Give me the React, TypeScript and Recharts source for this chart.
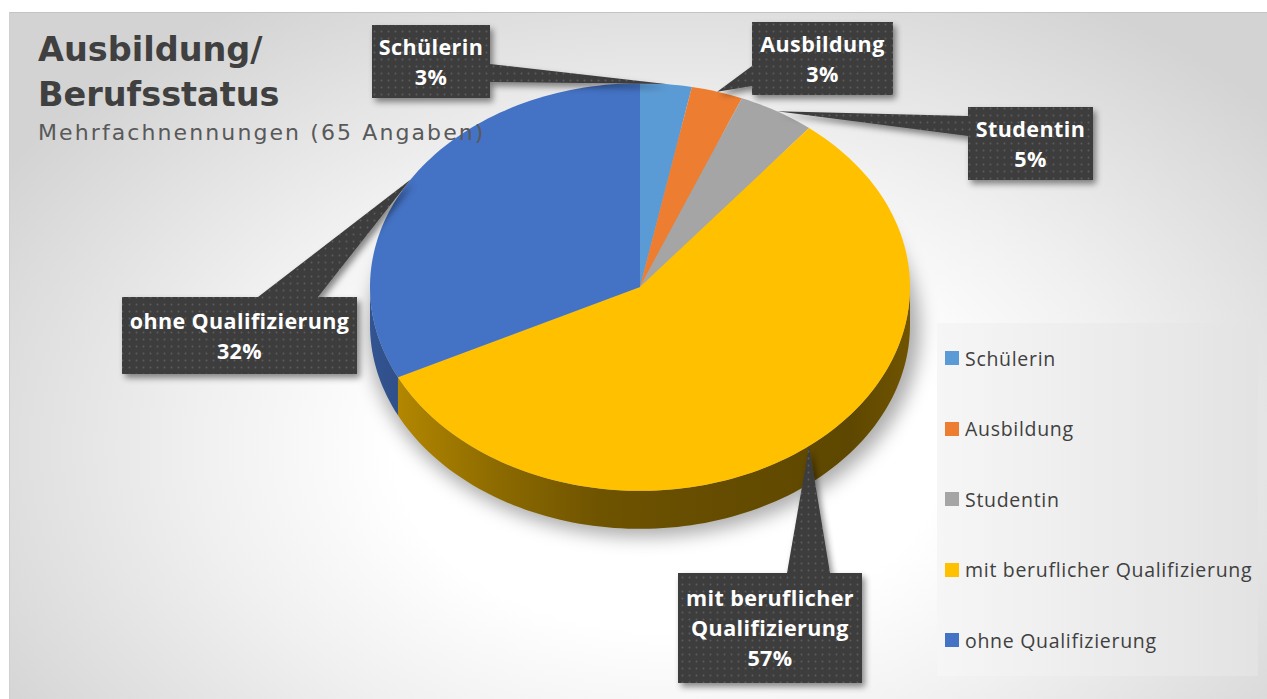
import { PieChart, Pie, Legend } from 'recharts'

const categories = ['Schülerin', 'Ausbildung', 'Studentin', 'mit beruflicher Qualifizierung', 'ohne Qualifizierung']
const counts = [2, 2, 3, 37, 21]
const colors = ['#5b9bd5', '#ed7d31', '#a5a5a5', '#ffc000', '#4472c4']

const data = categories.map((name, i) => ({ name, value: counts[i] }))

// callout boxes: box + the two points where the pointer leaves the box
const callouts = [
  { x: 372, y: 25, w: 118, h: 73, base: [[490, 64], [490, 82]], wrap: false },
  { x: 752, y: 22, w: 141, h: 73, base: [[752, 66], [752, 86]], wrap: false },
  { x: 968, y: 107, w: 125, h: 73, base: [[968, 116], [968, 136]], wrap: false },
  { x: 678, y: 573, w: 184, h: 110, base: [[787, 573], [830, 573]], wrap: true },
  { x: 122, y: 297, w: 235, h: 77, base: [[258, 297], [318, 297]], wrap: false },
]

const CX = 640
const CY = 287
const R = 270
const TILT = 0.755
const DEPTH = 38
const RAD = Math.PI / 180
const SIDE_SHADE = [0.74, 0.55, 0.43, 0.4, 0.37, 0.44]
const LABEL_FONT = '"Open Sans", Lato, sans-serif'

function pt(cx: number, cy: number, rx: number, ry: number, deg: number): [number, number] {
  return [cx + rx * Math.cos(deg * RAD), cy - ry * Math.sin(deg * RAD)]
}

function arc(cx: number, cy: number, rx: number, ry: number, from: number, to: number) {
  const steps = Math.max(2, Math.ceil(Math.abs(to - from) / 1.5))
  const out: string[] = []
  for (let i = 0; i <= steps; i++) {
    const [x, y] = pt(cx, cy, rx, ry, from + ((to - from) * i) / steps)
    out.push(`${x.toFixed(2)},${y.toFixed(2)}`)
  }
  return out
}

function shade(hex: string, f: number) {
  const n = parseInt(hex.slice(1), 16)
  const r = Math.round(((n >> 16) & 255) * f)
  const g = Math.round(((n >> 8) & 255) * f)
  const b = Math.round((n & 255) * f)
  return `rgb(${r},${g},${b})`
}

const renderFace = (props: any) => {
  const { cx, cy, outerRadius, startAngle, endAngle, index } = props
  const rx = outerRadius
  const ry = outerRadius * TILT
  const color = colors[index]
  const top = `M${cx},${cy} L${arc(cx, cy, rx, ry, startAngle, endAngle).join(' L')} Z`
  const hi = Math.min(startAngle, 0)
  const lo = Math.max(endAngle, -180)
  let side = ''
  if (hi > lo) {
    const upper = arc(cx, cy, rx, ry, hi, lo)
    const lower = arc(cx, cy + DEPTH, rx, ry, lo, hi)
    side = `M${upper.join(' L')} L${lower.join(' L')} Z`
  }
  const gid = `side-grad-${index}`
  return (
    <g key={`face-${index}`}>
      <defs>
        <linearGradient id={gid} gradientUnits="userSpaceOnUse" x1={cx - rx} y1={0} x2={cx + rx} y2={0}>
          {SIDE_SHADE.map((f, i) => (
            <stop key={i} offset={[0, 0.24, 0.43, 0.61, 0.89, 1][i]} stopColor={shade(color, f)} />
          ))}
        </linearGradient>
      </defs>
      {index === 0 && (
        <ellipse
          cx={cx + 4}
          cy={cy + DEPTH + 6}
          rx={rx + 6}
          ry={ry + 2}
          fill="rgba(0,0,0,0.32)"
          filter="url(#pieShadow)"
        />
      )}
      {side && <path d={side} fill={`url(#${gid})`} />}
      <path d={top} fill={color} />
    </g>
  )
}

const renderCallout = (props: any) => {
  const { cx, cy, outerRadius, midAngle, index, percent, name } = props
  const [tx, ty] = pt(cx, cy, outerRadius, outerRadius * TILT, midAngle)
  const b = callouts[index]
  const label = String(name ?? categories[index])
  const lines: string[] = []
  if (b.wrap) {
    const cut = label.lastIndexOf(' ')
    lines.push(label.slice(0, cut), label.slice(cut + 1))
  } else {
    lines.push(label)
  }
  lines.push(`${Math.round(percent * 100)}%`)
  const lh = 30
  const first = b.y + (b.h - lines.length * lh) / 2 + 23
  return (
    <g key={`callout-${index}`}>
      <g filter="url(#calloutShadow)">
        <path
          d={`M${b.base[0][0]},${b.base[0][1]} L${tx},${ty} L${b.base[1][0]},${b.base[1][1]} Z`}
          fill="url(#dots)"
        />
        <rect x={b.x} y={b.y} width={b.w} height={b.h} fill="url(#dots)" />
      </g>
      {lines.map((l, i) => (
        <text
          key={i}
          x={b.x + b.w / 2}
          y={first + i * lh}
          textAnchor="middle"
          fill="#ffffff"
          fontFamily={LABEL_FONT}
          fontWeight={700}
          fontSize={21.5}
          letterSpacing={0.4}
        >
          {l}
        </text>
      ))}
    </g>
  )
}

function LegendBox() {
  return (
    <div
      style={{
        width: '100%',
        height: '100%',
        background: 'linear-gradient(to right, #f6f6f6, #e3e3e3)',
        boxSizing: 'border-box',
      }}
    >
      {categories.map((c, i) => (
        <div
          key={c}
          style={{
            height: 70.5,
            display: 'flex',
            alignItems: 'center',
            paddingLeft: 8,
            fontFamily: LABEL_FONT,
            fontSize: 19.5,
            letterSpacing: 0.7,
            color: '#404040',
            whiteSpace: 'nowrap',
          }}
        >
          <span style={{ width: 14, height: 14, background: colors[i], marginRight: 6, flex: 'none' }} />
          {c}
        </div>
      ))}
    </div>
  )
}

export default function App() {
  return (
    <div
      style={{
        position: 'absolute',
        left: 0,
        top: 0,
        width: 1267,
        height: 699,
        overflow: 'hidden',
        background: '#ffffff',
      }}
    >
      <svg width={0} height={0} style={{ position: 'absolute' }}>
        <defs>
          <pattern id="dots" width={7} height={7} patternUnits="userSpaceOnUse">
            <rect width={7} height={7} fill="#3e3e3e" />
            <circle cx={3.5} cy={3.5} r={0.9} fill="#5c5c5c" />
          </pattern>
          <filter id="calloutShadow" x="-20%" y="-20%" width="140%" height="150%">
            <feDropShadow dx={3} dy={4} stdDeviation={3} floodColor="#000" floodOpacity={0.45} />
          </filter>
          <filter id="pieShadow" x="-20%" y="-20%" width="140%" height="140%">
            <feGaussianBlur stdDeviation={9} />
          </filter>
        </defs>
      </svg>
      <div
        style={{
          position: 'absolute',
          left: 9,
          top: 12,
          width: 1270,
          height: 700,
          borderTop: '1px solid #c4c4c4',
          borderLeft: '1px solid #d0d0d0',
          background: 'radial-gradient(ellipse 62% 75% at 52% 62%, #ffffff 35%, #f0f0f0 60%, #d3d3d3 100%)',
        }}
      />
      <div style={{ position: 'absolute', left: 0, top: 0 }}>
        <PieChart width={1267} height={699} margin={{ top: 0, right: 0, bottom: 0, left: 0 }}>
          <Pie
            data={data}
            dataKey="value"
            nameKey="name"
            cx={CX}
            cy={CY}
            outerRadius={R}
            startAngle={90}
            endAngle={-270}
            fill="none"
            stroke="none"
            label={renderFace}
            labelLine={false}
            isAnimationActive={false}
          />
          <Pie
            data={data}
            dataKey="value"
            nameKey="name"
            cx={CX}
            cy={CY}
            outerRadius={R}
            startAngle={90}
            endAngle={-270}
            fill="none"
            stroke="none"
            label={renderCallout}
            labelLine={false}
            isAnimationActive={false}
          />
          <Legend
            content={() => <LegendBox />}
            wrapperStyle={{ left: 937, top: 323, width: 321, height: 353 }}
          />
        </PieChart>
      </div>
      <div
        style={{
          position: 'absolute',
          left: 38,
          top: 27,
          fontFamily: '"DejaVu Sans", sans-serif',
          fontWeight: 700,
          fontSize: 33.5,
          lineHeight: '45px',
          color: '#404040',
          pointerEvents: 'none',
        }}
      >
        <div>Ausbildung/</div>
        <div>Berufsstatus</div>
      </div>
      <div
        style={{
          position: 'absolute',
          left: 38,
          top: 120,
          fontFamily: '"DejaVu Sans", sans-serif',
          fontSize: 22,
          lineHeight: '26px',
          letterSpacing: 2.1,
          color: '#595959',
          whiteSpace: 'nowrap',
          pointerEvents: 'none',
        }}
      >
        Mehrfachnennungen (65 Angaben)
      </div>
    </div>
  )
}
